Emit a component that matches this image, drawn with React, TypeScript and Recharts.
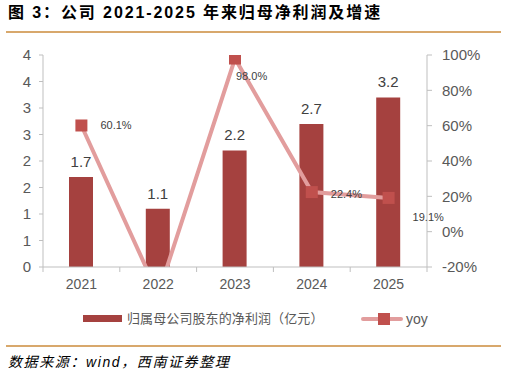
import {
  ComposedChart,
  Bar,
  Line,
  XAxis,
  YAxis,
  LabelList,
} from 'recharts'

const YEARS = ['2021', '2022', '2023', '2024', '2025']
// 归母净利润（亿元）
const PROFIT = [1.7, 1.1, 2.2, 2.7, 3.2]
// 同比增速
const YOY = [0.601, -0.353, 0.98, 0.224, 0.191]
const LEFT_TICKS = [0, 0.5, 1, 1.5, 2, 2.5, 3, 3.5, 4]
const RIGHT_TICKS = [-0.2, 0, 0.2, 0.4, 0.6, 0.8, 1]

// where each yoy label sits relative to its marker
const YOY_LABEL_NUDGE = [
  [19, 4],
  [19, 4],
  [1, 21],
  [19, 6],
  [24, 23],
]

const FONT = '"Liberation Sans", Arial, "Noto Sans CJK SC", sans-serif'
const BAR_COLOR = '#a5413f'
const LINE_COLOR = '#e29d9d'
const MARKER_COLOR = '#c0504d'
const AXIS_COLOR = '#bfbfbf'
const TEXT_COLOR = '#595959'
const RULE_COLOR = '#d8a86c'

const rows = YEARS.map((year, i) => ({ year, profit: PROFIT[i], yoy: YOY[i] }))

const YOY_MIN = RIGHT_TICKS[0]

function YearTick(props: any) {
  const { x, y, payload, index } = props
  const half = 384 / YEARS.length / 2
  return (
    <g>
      <line x1={x - half} x2={x - half} y1={y} y2={y + 5} stroke={AXIS_COLOR} />
      {index === YEARS.length - 1 && (
        <line x1={x + half} x2={x + half} y1={y} y2={y + 5} stroke={AXIS_COLOR} />
      )}
      <text x={x} y={y + 22} textAnchor="middle" fontSize={14} fill={TEXT_COLOR} fontFamily={FONT}>
        {payload.value}
      </text>
    </g>
  )
}

function SquareDot(props: any) {
  const { cx, cy, value, index } = props
  if (value == null || value < YOY_MIN || cx == null) return <g key={index} />
  return <rect key={index} x={cx - 6} y={cy - 6} width={12} height={12} fill={MARKER_COLOR} />
}

function YoyLabel(props: any) {
  const { x, y, value, index } = props
  if (value == null || value < YOY_MIN) return null
  const [dx, dy] = YOY_LABEL_NUDGE[index] ?? [0, 0]
  return (
    <text x={x + dx} y={y + dy} fontSize={11} fill="#404040" fontFamily={FONT}>
      {(value * 100).toFixed(1)}%
    </text>
  )
}

export default function App() {
  return (
    <div
      style={{
        position: 'absolute',
        left: 0,
        top: 0,
        width: 507,
        height: 377,
        background: '#fff',
        fontFamily: FONT,
      }}
    >
      <div
        style={{
          position: 'absolute',
          left: 8,
          top: 5,
          fontSize: 16,
          lineHeight: '16px',
          fontWeight: 'bold',
          letterSpacing: 1.9,
          color: '#000',
          whiteSpace: 'nowrap',
        }}
      >
        图 3：公司 2021-2025 年来归母净利润及增速
      </div>
      <div style={{ position: 'absolute', left: 6, top: 31, width: 495, height: 2, background: RULE_COLOR }} />

      <div style={{ position: 'absolute', left: 0, top: 0 }}>
        <ComposedChart
          width={507}
          height={300}
          data={rows}
          margin={{ top: 55, right: 30, left: 0, bottom: 0 }}
        >
          <XAxis
            dataKey="year"
            height={33}
            interval={0}
            tickLine={false}
            tickSize={0}
            tickMargin={0}
            axisLine={{ stroke: AXIS_COLOR }}
            tick={<YearTick />}
          />
          <YAxis
            yAxisId="left"
            domain={[0, 4]}
            ticks={LEFT_TICKS}
            width={43}
            tickSize={4}
            tickMargin={8}
            axisLine={{ stroke: AXIS_COLOR }}
            tickLine={{ stroke: AXIS_COLOR }}
            tick={{ fontSize: 15, fill: TEXT_COLOR, fontFamily: FONT }}
            tickFormatter={(v: number) => String(Math.round(v))}
          />
          <YAxis
            yAxisId="right"
            orientation="right"
            domain={[-0.2, 1]}
            ticks={RIGHT_TICKS}
            allowDataOverflow
            width={50}
            tickSize={5}
            tickMargin={10}
            axisLine={{ stroke: AXIS_COLOR }}
            tickLine={{ stroke: AXIS_COLOR }}
            tick={{ fontSize: 15, fill: TEXT_COLOR, fontFamily: FONT, textAnchor: 'start' }}
            tickFormatter={(v: number) => `${Math.round(v * 100)}%`}
          />
          <Bar yAxisId="left" dataKey="profit" barSize={24} fill={BAR_COLOR} isAnimationActive={false}>
            <LabelList
              dataKey="profit"
              position="top"
              offset={10}
              style={{ fontSize: 15, fill: '#404040', fontFamily: FONT }}
              formatter={(v: any) => Number(v).toFixed(1)}
            />
          </Bar>
          <Line
            yAxisId="right"
            dataKey="yoy"
            stroke={LINE_COLOR}
            strokeWidth={4}
            dot={<SquareDot />}
            activeDot={false}
            label={<YoyLabel />}
            isAnimationActive={false}
          />
        </ComposedChart>
      </div>

      {/* legend */}
      <div style={{ position: 'absolute', left: 83, top: 315, width: 39, height: 7, background: BAR_COLOR }} />
      <div
        style={{
          position: 'absolute',
          left: 127,
          top: 310,
          fontSize: 13,
          lineHeight: '18px',
          letterSpacing: 0.1,
          color: TEXT_COLOR,
          whiteSpace: 'nowrap',
        }}
      >
        归属母公司股东的净利润（亿元）
      </div>
      <div style={{ position: 'absolute', left: 361, top: 317, width: 42, height: 4, background: LINE_COLOR, borderRadius: 2 }} />
      <div style={{ position: 'absolute', left: 378, top: 313, width: 12, height: 12, background: MARKER_COLOR }} />
      <div
        style={{
          position: 'absolute',
          left: 406,
          top: 310,
          fontSize: 14,
          lineHeight: '18px',
          color: TEXT_COLOR,
        }}
      >
        yoy
      </div>

      <div style={{ position: 'absolute', left: 6, top: 345, width: 495, height: 2, background: RULE_COLOR }} />
      <div
        style={{
          position: 'absolute',
          left: 8,
          top: 353,
          fontSize: 14,
          lineHeight: '18px',
          fontStyle: 'italic',
          letterSpacing: 1.6,
          color: '#000',
          whiteSpace: 'nowrap',
        }}
      >
        数据来源：wind，西南证券整理
      </div>
    </div>
  )
}
